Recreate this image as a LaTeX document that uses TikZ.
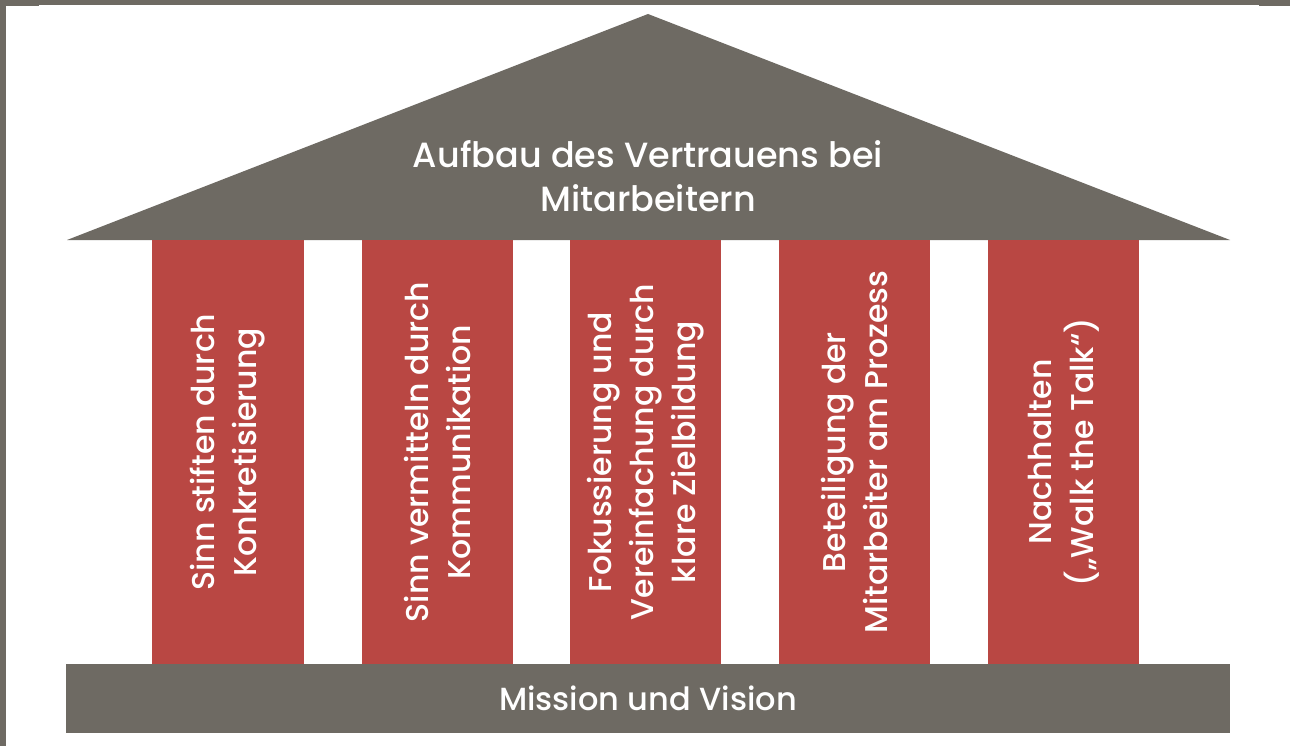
\documentclass[tikz,border=0pt]{standalone}
\usepackage{fontspec}
\setmainfont{Poppins}[UprightFont={* Medium}]
\definecolor{roofgray}{HTML}{6E6A63}
\definecolor{pillarred}{HTML}{B94743}
\begin{document}
\begin{tikzpicture}[x=1pt,y=-1pt,
  pillar/.style={fill=pillarred,draw=none},
  pillartext/.style={text=white,rotate=90,align=center,font=\fontsize{31.5}{42}\selectfont},
  graytext/.style={text=white,align=center,font=\fontsize{35}{44}\selectfont}]
\useasboundingbox (0,0) rectangle (1290,746);
\fill[white] (0,0) rectangle (1290,746);
% frame edges
\fill[roofgray] (0,0) rectangle (1290,5);
\fill[roofgray] (0,0) rectangle (6,746);
\fill[roofgray] (6,5) rectangle (39,6);
\fill[roofgray] (1259,5) rectangle (1290,6);
% roof
\fill[roofgray] (67,240) -- (648,14) -- (1230,240) -- cycle;
\node[graytext] (roof) at (648,176) {Aufbau des Vertrauens bei\\Mitarbeitern};
% pillars
\fill[pillar] (152,240) rectangle (304,664);
\fill[pillar] (362,240) rectangle (513,664);
\fill[pillar] (570,240) rectangle (721,664);
\fill[pillar] (779,240) rectangle (930,664);
\fill[pillar] (988,240) rectangle (1139,664);
\node[pillartext] (p1) at (228,452) {Sinn stiften durch\\Konkretisierung};
\node[pillartext] (p2) at (437.5,452) {Sinn vermitteln durch\\Kommunikation};
\node[pillartext] (p3) at (645.5,452) {Fokussierung und\\Vereinfachung durch\\klare Zielbildung};
\node[pillartext] (p4) at (854.5,452) {Beteiligung der\\Mitarbeiter am Prozess};
\node[pillartext] (p5) at (1063.5,452) {Nachhalten\\(„Walk the Talk“)};
% base
\fill[roofgray] (66,664) rectangle (1230,733);
\node[graytext,font=\fontsize{32}{40}\selectfont] (base) at (648,698) {Mission und Vision};
\end{tikzpicture}
\end{document}
